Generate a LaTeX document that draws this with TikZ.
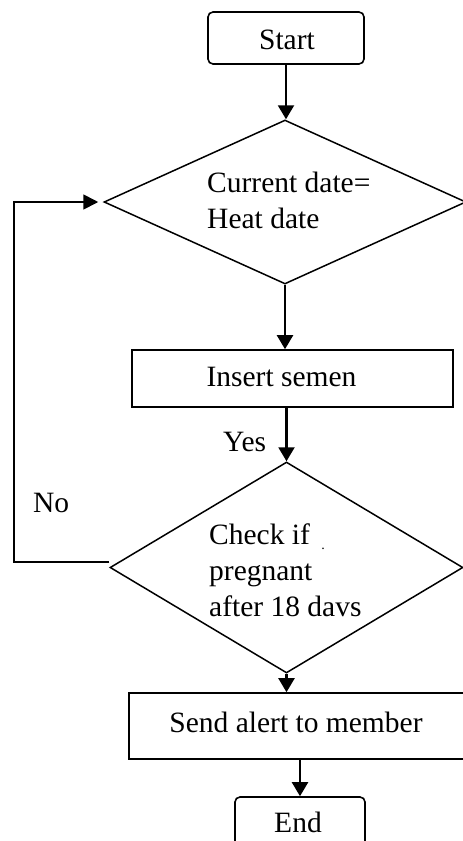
\documentclass[tikz,border=0pt]{standalone}
\usepackage{fontspec}
\setmainfont{Liberation Serif}
\usetikzlibrary{shapes.geometric,arrows.meta}
\begin{document}
\begin{tikzpicture}[x=1pt,y=-1pt,
  txt/.style={font=\fontsize{29.5}{36}\selectfont, inner sep=0pt},
  lbl/.style={txt, anchor=base west},
  ctr/.style={txt, anchor=base},
  proc/.style={draw, line width=1.6pt, rectangle, inner sep=0pt},
  term/.style={draw, line width=1.6pt, rectangle, rounded corners=5pt, inner sep=0pt},
  dia/.style={draw, line width=1.5pt, diamond, inner sep=0pt},
  arr/.style={line width=2.2pt, -{Triangle[width=16pt,length=14pt]}},
  loopline/.style={line width=1.7pt, -{Triangle[width=15pt,length=15pt]}}]
\useasboundingbox (0,0) rectangle (463,841);
\clip (0,0) rectangle (463,841);
% shapes
\node[term, minimum width=156pt, minimum height=52pt] (start) at (286,38) {};
\node[dia, minimum width=362pt, minimum height=164pt] (d1) at (285,202) {};
\node[proc, minimum width=321pt, minimum height=57pt] (ins) at (292.5,378.5) {};
\node[dia, minimum width=353pt, minimum height=211pt] (d2) at (286.5,567.5) {};
\node[proc, minimum width=336pt, minimum height=66pt] (send) at (297,726) {};
\node[term, minimum width=130pt, minimum height=54pt] (end) at (300,824) {};
% texts
\node[ctr] (starttxt) at (287,49) {Start};
\node[lbl] (t1a) at (207,192) {Current date=};
\node[lbl] (t1b) at (207,228) {Heat date};
\node[ctr] (instxt) at (281.5,386) {Insert semen};
\node[lbl] (yes) at (223,451) {Yes};
\node[lbl] (no) at (33,512) {No};
\node[lbl] (t2a) at (209,544) {Check if};
\node[lbl] (t2b) at (209,580) {pregnant};
\node[lbl] (t2c) at (209,616) {after 18 davs};
\node[ctr, font=\fontsize{14}{16}\selectfont] (dot) at (323,549) {.};
\node[ctr] (sendtxt) at (296,732) {Send alert to member};
\node[ctr] (endtxt) at (298,832) {End};
% connectors
\draw[arr] (start.south) -- (start.south |- d1.north);
\draw[arr] (d1.south) -- (d1.south |- ins.north);
\draw[arr] (d2.north |- ins.south) -- (d2.north);
\draw[arr] (d2.south) -- (d2.south |- send.north);
\draw[arr] (end.north |- send.south) -- (end.north);
\coordinate (lb) at (14,562);
\coordinate (lt) at (14,202);
\draw[loopline] ([yshift=5.5pt]d2.west) -- (lb) -- (lt) -- ([xshift=-5pt]d1.west);
\end{tikzpicture}
\end{document}
